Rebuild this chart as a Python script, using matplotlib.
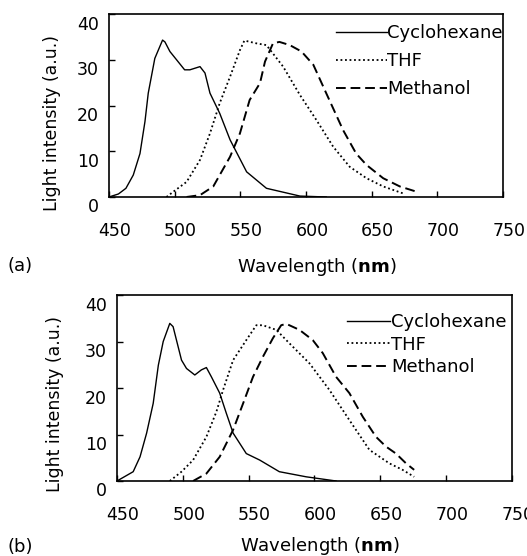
import matplotlib.pyplot as plt
import matplotlib.transforms as mtransforms

# Panel (a)
cyc_a_x = [450, 457.2, 462.9, 468.5, 473.6, 477.4, 479.9, 484.9, 490.8, 492.6, 496.4, 507.6, 511.6,
           519.3, 523.1, 526.9, 534.3, 542.2, 554.8, 569.9, 595.4, 615.4]
cyc_a_y = [0, 0.66, 1.9, 4.8, 9.5, 16.5, 22.7, 30.3, 34.3, 33.9, 31.8, 27.8, 27.8, 28.5, 27.1,
           22.7, 18.3, 12.5, 5.5, 1.9, 0.2, 0]
thf_a_x = [493.8, 499.2, 509.1, 519.3, 526.9, 534.3, 542.2, 549.7, 553.1, 562.0, 569.9, 582.6,
           595.4, 608.0, 620.7, 633.3, 646.1, 658.8, 673.8]
thf_a_y = [0, 1.2, 3.3, 8.1, 13.9, 20.5, 26.3, 32.1, 34.2, 33.6, 33.2, 28.5, 22.3, 16.8,
           11, 6.6, 4.1, 2.3, 0.8]
met_a_x = [509.1, 519.3, 529.4, 542.2, 549.7, 557.1, 565.0, 568.8, 574.9, 579.8, 587.7, 596.6,
           605.6, 615.4, 628.3, 638.2, 646.1, 658.8, 671.5, 683.7]
met_a_y = [0, 0.4, 2.3, 8.8, 13.9, 21.2, 24.9, 29.6, 33.6, 33.9, 33.2, 31.8, 28.9, 22.7,
           14.6, 9.5, 7, 4.1, 2.3, 1.2]

# Panel (b)
cyc_b_x = [450, 462.3, 467.5, 472.5, 477.5, 481.4, 485.1, 490.1, 492.6, 499.0, 502.8, 509.1, 514.1,
           517.9, 521.7, 528.0, 533.0, 538.2, 548.2, 558.4, 573.3, 593.7, 616.4]
cyc_b_y = [0, 2.0, 5.2, 10.3, 16.7, 24.9, 30, 33.9, 33.2, 26, 24.2, 22.8, 23.9,
           24.4, 22.4, 18.9, 14.6, 10.3, 5.9, 4.5, 2.0, 0.9, 0]
thf_b_x = [490.1, 499.0, 507.8, 517.9, 525.5, 530.6, 538.2, 548.2, 555.8, 560.8, 571.0, 581.0,
           596.2, 611.3, 626.5, 641.7, 656.8, 666.9, 675.7]
thf_b_y = [0, 2.0, 4.5, 9.5, 14.9, 19.6, 26, 30.3, 33.5, 33.5, 32.5, 29.6,
           25.3, 19.6, 13.1, 6.7, 3.8, 2.4, 0.9]
met_b_x = [507.8, 517.9, 528.0, 538.2, 545.8, 553.3, 560.8, 568.4, 574.7, 578.6, 588.6, 598.7,
           606.3, 616.4, 626.5, 636.7, 646.7, 654.3, 661.9, 669.5, 675.7]
met_b_y = [0, 1.6, 5.2, 11, 16.7, 22.4, 26.7, 30.7, 33.5, 33.8, 32.5, 30.3, 27.5,
           22.4, 18.9, 13.8, 9.5, 7.4, 5.9, 3.8, 2.4]

labels = ['Cyclohexane', 'THF', 'Methanol']
xticks = [450, 500, 550, 600, 650, 700, 750]
yticks = [0, 10, 20, 30, 40]

fig = plt.figure(figsize=(5.27, 5.56), dpi=100)
ax_a = fig.add_axes([0.2068, 0.6457, 0.7476, 0.3291])
ax_b = fig.add_axes([0.2220, 0.1349, 0.7495, 0.3345])

# (axes, data..., tag, tag y, xlabel coords, ylabel coords, legend anchor, legend spacing, handle length)
panels = [
    (ax_a, cyc_a_x, cyc_a_y, thf_a_x, thf_a_y, met_a_x, met_a_y, '(a)', 1 - 266 / 556,
     (0.528, -0.383), (-0.145, 0.404), (1.0, 0.945), 0.56, 2.8),
    (ax_b, cyc_b_x, cyc_b_y, thf_b_x, thf_b_y, met_b_x, met_b_y, '(b)', 1 - 547 / 556,
     (0.514, -0.349), (-0.157, 0.414), (0.987, 0.904), 0.26, 2.4),
]

shift_x = mtransforms.ScaledTranslation(0.06, 0, fig.dpi_scale_trans)
shift_y = mtransforms.ScaledTranslation(0, -0.085, fig.dpi_scale_trans)

for ax, cx, cy, tx, ty, mx, my, tag, tag_y, xl, yl, anchor, leg_sp, hl in panels:
    ax.plot(cx, cy, color='black', linestyle='-', linewidth=1.0, label=labels[0])
    ax.plot(tx, ty, color='black', linestyle=(0, (1, 1.5)), linewidth=1.3, label=labels[1])
    ax.plot(mx, my, color='black', linestyle=(0, (5, 2.5)), linewidth=1.4, label=labels[2])
    ax.set_xlim(450, 750)
    ax.set_ylim(0, 40)
    ax.set_xticks(xticks)
    ax.set_yticks(yticks)
    ax.tick_params(direction='in', length=4, width=1, labelsize=12.5)
    ax.tick_params(axis='x', pad=18)
    ax.tick_params(axis='y', pad=7.2)
    for lab in ax.get_xticklabels():
        lab.set_transform(lab.get_transform() + shift_x)
    for lab in ax.get_yticklabels():
        lab.set_transform(lab.get_transform() + shift_y)
    for s in ax.spines.values():
        s.set_linewidth(1.2)
    ax.set_xlabel(r'Wavelength ($\mathbf{nm}$)', fontsize=13, va='center')
    ax.xaxis.set_label_coords(*xl)
    ax.set_ylabel('Light intensity (a.u.)', fontsize=12.5, va='center')
    ax.yaxis.set_label_coords(*yl)
    ax.legend(loc='upper right', bbox_to_anchor=anchor, frameon=False, fontsize=13,
              handlelength=hl, handletextpad=0.05, labelspacing=leg_sp,
              borderaxespad=0, borderpad=0)
    fig.text(0.015, tag_y, tag, fontsize=13, ha='left', va='center')

fig.savefig('out.png', dpi=100)
